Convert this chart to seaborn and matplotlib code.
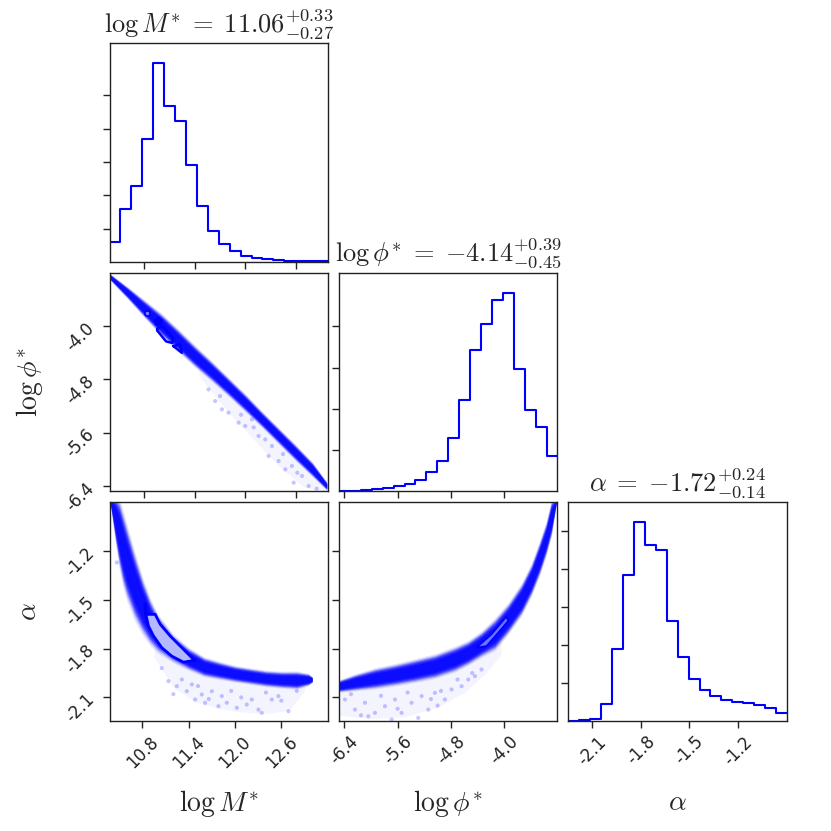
import numpy as np
import pandas as pd
import matplotlib
matplotlib.use("Agg")
import matplotlib.pyplot as plt
import seaborn as sns

# ---------------- data ----------------
param_tex = [r"\log M^{*}", r"\log \phi^{*}", r"\alpha"]
medians = [11.06, -4.14, -1.72]
err_plus = [0.33, 0.39, 0.24]
err_minus = [0.27, 0.45, 0.14]

logM_ticks = [10.8, 11.4, 12.0, 12.6]
logphi_ticks = [-6.4, -5.6, -4.8, -4.0]
alpha_ticks = [-2.1, -1.8, -1.5, -1.2]

logM_range_top = (10.385, 12.985)     # rows 0 and 1 of the first column
logM_range_bottom = (10.373, 13.205)  # bottom row of the first column
logphi_range = (-6.48, -3.20)
alpha_range = (-2.245, -0.90)

# 1-D histograms (20 bins over each range, arbitrary count units)
hist_logM = [0.60, 1.59, 2.28, 3.68, 5.97, 4.69, 4.22, 2.92, 1.68, 0.92,
             0.52, 0.33, 0.18, 0.10, 0.07, 0.04, 0.02, 0.01, 0.01, 0.01]
hist_logphi = [0.01, 0.02, 0.04, 0.06, 0.09, 0.12, 0.17, 0.28, 0.46, 0.74,
               1.30, 2.21, 3.44, 4.06, 4.64, 4.82, 2.98, 1.98, 1.55, 0.85]
hist_alpha = [0.00, 0.02, 0.04, 0.44, 1.89, 3.86, 5.24, 4.63, 4.52, 2.64,
              1.70, 1.10, 0.81, 0.65, 0.55, 0.50, 0.48, 0.42, 0.34, 0.22]

# 2-D sample bands: log M* vs log phi*
band_mp_x = [10.39, 10.6, 10.8, 11.0, 11.2, 11.4, 11.6, 11.8, 12.0, 12.2, 12.4, 12.6, 12.8, 12.97]
band_mp_hi = [-3.22, -3.425, -3.63, -3.835, -4.07, -4.315, -4.55, -4.795, -5.04, -5.30, -5.55, -5.80, -6.06, -6.35]
band_mp_lo = [-3.30, -3.575, -3.85, -4.115, -4.35, -4.585, -4.80, -5.025, -5.26, -5.50, -5.75, -6.00, -6.24, -6.45]

# log M* vs alpha
band_ma_x = [10.38, 10.40, 10.45, 10.50, 10.55, 10.60, 10.70, 10.80, 10.90, 11.0, 11.2, 11.4,
             11.6, 11.8, 12.0, 12.2, 12.4, 12.6, 12.8, 12.95, 13.0]
band_ma_hi = [-0.88, -0.88, -0.88, -0.917, -0.999, -1.083, -1.245, -1.393, -1.517, -1.611, -1.728, -1.806,
              -1.862, -1.889, -1.913, -1.928, -1.942, -1.948, -1.948, -1.959, -1.975]
band_ma_lo = [-0.90, -0.962, -1.126, -1.270, -1.383, -1.465, -1.589, -1.681, -1.753, -1.804, -1.870, -1.920,
              -1.961, -1.979, -1.996, -2.010, -2.024, -2.033, -2.039, -2.020, -2.005]

# log phi* vs alpha
band_pa_x = [-6.49, -6.24, -5.94, -5.64, -5.34, -5.04, -4.74, -4.54, -4.34, -4.14, -3.94,
             -3.74, -3.59, -3.47, -3.37, -3.29, -3.215]
band_pa_hi = [-2.000, -1.965, -1.930, -1.905, -1.876, -1.846, -1.800, -1.763, -1.706, -1.630, -1.535,
              -1.414, -1.291, -1.157, -1.036, -0.900, -0.880]
band_pa_lo = [-2.061, -2.049, -2.035, -2.016, -1.994, -1.969, -1.928, -1.887, -1.837, -1.792, -1.693,
              -1.578, -1.455, -1.332, -1.208, -1.085, -0.900]

# faint wash of sparse samples below each band (lower edge of the wash)
fuzz_mp_x = [11.45, 11.8, 12.1, 12.4, 12.7, 12.95]
fuzz_mp_lo = [-4.75, -5.30, -5.70, -6.10, -6.42, -6.47]
fuzz_ma_x = [10.95, 11.2, 11.5, 11.8, 12.1, 12.4, 12.7, 12.9]
fuzz_ma_lo = [-1.85, -2.04, -2.13, -2.17, -2.19, -2.20, -2.18, -2.06]
fuzz_pa_x = [-6.48, -6.0, -5.5, -5.0, -4.6, -4.3, -4.05]
fuzz_pa_lo = [-2.21, -2.23, -2.22, -2.16, -2.07, -1.96, -1.84]

# sparse outlying samples
out_mp_x = [11.563, 11.642, 11.722, 11.801, 11.921, 12.000, 12.079, 12.159, 12.278,
            12.318, 12.397, 12.477, 12.556, 12.576, 12.676, 12.755, 12.238, 11.70, 11.95, 12.10,
            12.45, 12.62, 12.85]
out_mp_y = [-4.950, -5.124, -5.249, -5.299, -5.449, -5.499, -5.399, -5.649, -5.949,
            -5.799, -6.024, -6.149, -6.099, -6.349, -6.249, -6.399, -5.699, -5.05, -5.33, -5.52,
            -5.92, -6.20, -6.44]
out_ma_x = [11.137, 11.245, 11.375, 11.440, 11.483, 11.569, 11.612, 11.699, 11.785, 11.893,
            12.023, 12.152, 12.303, 12.346, 12.476, 12.692, 11.310, 11.828, 12.217, 12.562, 10.468,
            11.05, 11.20, 11.52, 11.66, 11.95, 12.08, 12.40, 12.60, 12.80, 10.52, 10.62]
out_ma_y = [-2.000, -2.031, -2.062, -2.020, -2.113, -2.082, -2.133, -2.062, -2.154, -2.133,
            -2.164, -2.144, -2.175, -2.195, -2.113, -2.185, -1.990, -2.092, -2.113, -2.092, -1.270,
            -1.92, -2.08, -2.03, -2.11, -2.06, -2.10, -2.07, -2.12, -2.06, -1.15, -1.38]
out_pa_x = [-6.39, -6.24, -6.09, -5.94, -5.79, -5.64, -5.54, -5.39, -5.24, -5.14,
            -5.04, -4.89, -4.79, -4.64, -4.54, -4.44, -4.34, -6.04, -5.29, -5.69,
            -6.30, -5.85, -5.45, -5.10, -4.95, -4.70, -4.48, -6.15, -5.60, -5.00]
out_pa_y = [-2.113, -2.175, -2.133, -2.195, -2.154, -2.113, -2.195, -2.133, -2.092, -2.175,
            -2.072, -2.113, -2.051, -2.031, -1.990, -1.969, -1.928, -2.216, -2.226, -2.236,
            -2.08, -2.09, -2.07, -2.11, -2.06, -1.99, -1.95, -2.21, -2.17, -2.15]

# highest-density contour pieces
cont_mp_quad_x = [10.957, 11.023, 11.142, 11.130, 11.058, 10.951, 10.957]
cont_mp_quad_y = [-4.035, -4.005, -4.185, -4.252, -4.230, -4.065, -4.035]
cont_mp_tri_x = [11.145, 11.225, 11.245, 11.145]
cont_mp_tri_y = [-4.300, -4.275, -4.400, -4.300]
cont_mp_dots_x = [10.828, 10.967]
cont_mp_dots_y = [-3.800, -3.926]
cont_ma_x = [10.844, 10.965, 11.030, 11.159, 11.310, 11.474, 11.331, 11.180, 11.051, 10.943, 10.878, 10.844]
cont_ma_y = [-1.589, -1.589, -1.650, -1.722, -1.794, -1.872, -1.883, -1.846, -1.794, -1.722, -1.661, -1.589]
cont_ma_tail_x = [10.835, 10.844]
cont_ma_tail_y = [-1.527, -1.589]
cont_pa_x = [-4.416, -4.191, -3.966, -3.941, -4.091, -4.266, -4.416]
cont_pa_y = [-1.794, -1.712, -1.603, -1.630, -1.702, -1.784, -1.794]

# ---------------- styling ----------------
sns.set_style("ticks")
plt.rcParams["font.family"] = ["DejaVu Sans"]
plt.rcParams["mathtext.fontset"] = "cm"
plt.rcParams["axes.unicode_minus"] = False
plt.rcParams["axes.linewidth"] = 1.0
plt.rcParams["axes.edgecolor"] = "#222222"

BLUE = "#0000ff"
fig = plt.figure(figsize=(8.31, 8.31), dpi=100)
gs = fig.add_gridspec(3, 3, left=0.1318, right=0.947, bottom=0.1324, top=0.948,
                      wspace=0.0503, hspace=0.0503)
axes = [[fig.add_subplot(gs[i, j]) if j <= i else None for j in range(3)] for i in range(3)]

tick_kw = dict(direction="out", length=5, width=1.0, labelsize=12, colors="#222222")


def fmt(ticks):
    return [f"{t:.1f}" for t in ticks]


def draw_hist(ax, counts, rng, ticks):
    n = len(counts)
    width = (rng[1] - rng[0]) / n
    centers = rng[0] + width * (np.arange(n) + 0.5)
    df = pd.DataFrame({"x": centers, "w": counts})
    sns.histplot(data=df, x="x", weights="w", bins=n, binrange=rng, element="step", fill=False,
                 color=BLUE, linewidth=1.5, ax=ax)
    ax.set_xlim(rng)
    ax.set_ylim(0, 1.1 * max(counts))
    ax.set_yticks(np.arange(1, int(max(counts)) + 1))
    ax.set_yticklabels([])
    ax.set_xticks(ticks)
    ax.set_xlabel("")
    ax.set_ylabel("")
    ax.tick_params(axis="both", **tick_kw)


def draw_band(ax, x, hi, lo, fx, flo, ox, oy):
    x = np.asarray(x)
    hi = np.asarray(hi)
    lo = np.asarray(lo)
    # faint wash of sparse samples
    fx = np.asarray(fx)
    ax.fill_between(fx, np.asarray(flo), np.interp(fx, x, lo), color=BLUE, alpha=0.045, lw=0)
    sns.scatterplot(x=ox, y=oy, color=BLUE, alpha=0.22, s=9, edgecolor="none", ax=ax)
    mid = 0.5 * (hi + lo)
    half = 0.5 * (hi - lo)
    for frac, a in [(1.25, 0.10), (1.12, 0.18), (1.0, 0.32), (0.88, 0.45), (0.74, 0.55), (0.58, 0.6)]:
        ax.fill_between(x, mid - frac * half, mid + frac * half, color=BLUE, alpha=a, lw=0)


def title_text(k):
    return (rf"${param_tex[k]}\;=\;{{{medians[k]:.2f}}}"
            rf"^{{+{err_plus[k]:.2f}}}_{{-{err_minus[k]:.2f}}}$")


# diagonal histograms
draw_hist(axes[0][0], hist_logM, logM_range_top, logM_ticks)
axes[0][0].set_xticklabels([])
draw_hist(axes[1][1], hist_logphi, logphi_range, logphi_ticks)
axes[1][1].set_xticklabels([])
draw_hist(axes[2][2], hist_alpha, alpha_range, alpha_ticks)
axes[2][2].set_xticklabels(fmt(alpha_ticks), rotation=45)

for k, ax in enumerate([axes[0][0], axes[1][1], axes[2][2]]):
    ax.set_title(title_text(k), fontsize=19, pad=8)

# log M* vs log phi*
ax = axes[1][0]
draw_band(ax, band_mp_x, band_mp_hi, band_mp_lo, fuzz_mp_x, fuzz_mp_lo, out_mp_x, out_mp_y)
ax.plot(cont_mp_quad_x, cont_mp_quad_y, color=BLUE, lw=1.8)
ax.plot(cont_mp_tri_x, cont_mp_tri_y, color=BLUE, lw=1.8)
ax.scatter(cont_mp_dots_x[:1], cont_mp_dots_y[:1], s=14, facecolor="#8080ff", edgecolor=BLUE, lw=1.2)
ax.scatter(cont_mp_dots_x[1:], cont_mp_dots_y[1:], s=40, color=BLUE, marker="p")
ax.set_xlim(logM_range_top)
ax.set_ylim(logphi_range)
ax.set_xticks(logM_ticks)
ax.set_xticklabels([])
ax.set_yticks(logphi_ticks)
ax.set_yticklabels(fmt(logphi_ticks), rotation=45)

# log M* vs alpha
ax = axes[2][0]
draw_band(ax, band_ma_x, band_ma_hi, band_ma_lo, fuzz_ma_x, fuzz_ma_lo, out_ma_x, out_ma_y)
ax.fill(cont_ma_x, cont_ma_y, facecolor="#b4b8ff", edgecolor=BLUE, lw=2.0)
ax.plot(cont_ma_tail_x, cont_ma_tail_y, color=BLUE, lw=2.5, solid_capstyle="round")
ax.set_xlim(logM_range_bottom)
ax.set_ylim(alpha_range)
ax.set_xticks(logM_ticks)
ax.set_xticklabels(fmt(logM_ticks), rotation=45)
ax.set_yticks(alpha_ticks)
ax.set_yticklabels(fmt(alpha_ticks), rotation=45)

# log phi* vs alpha
ax = axes[2][1]
draw_band(ax, band_pa_x, band_pa_hi, band_pa_lo, fuzz_pa_x, fuzz_pa_lo, out_pa_x, out_pa_y)
ax.fill(cont_pa_x, cont_pa_y, facecolor="#6e74ff", edgecolor=BLUE, lw=1.2)
ax.set_xlim(logphi_range)
ax.set_ylim(alpha_range)
ax.set_xticks(logphi_ticks)
ax.set_xticklabels(fmt(logphi_ticks), rotation=45)
ax.set_yticks(alpha_ticks)
ax.set_yticklabels([])

for ax in [axes[1][0], axes[2][0], axes[2][1]]:
    ax.tick_params(axis="both", **tick_kw)
    ax.set_xlabel("")
    ax.set_ylabel("")

# axis labels
labels = [rf"${t}$" for t in param_tex]
for j in range(3):
    axes[2][j].set_xlabel(labels[j], fontsize=20)
axes[1][0].set_ylabel(labels[1], fontsize=20)
axes[2][0].set_ylabel(labels[2], fontsize=20)
axes[1][0].yaxis.set_label_coords(-0.295, 0.5)
axes[2][0].yaxis.set_label_coords(-0.31, 0.5)
for j in range(3):
    axes[2][j].xaxis.set_label_coords(0.5, -0.305)

fig.savefig("out.png", dpi=100)
